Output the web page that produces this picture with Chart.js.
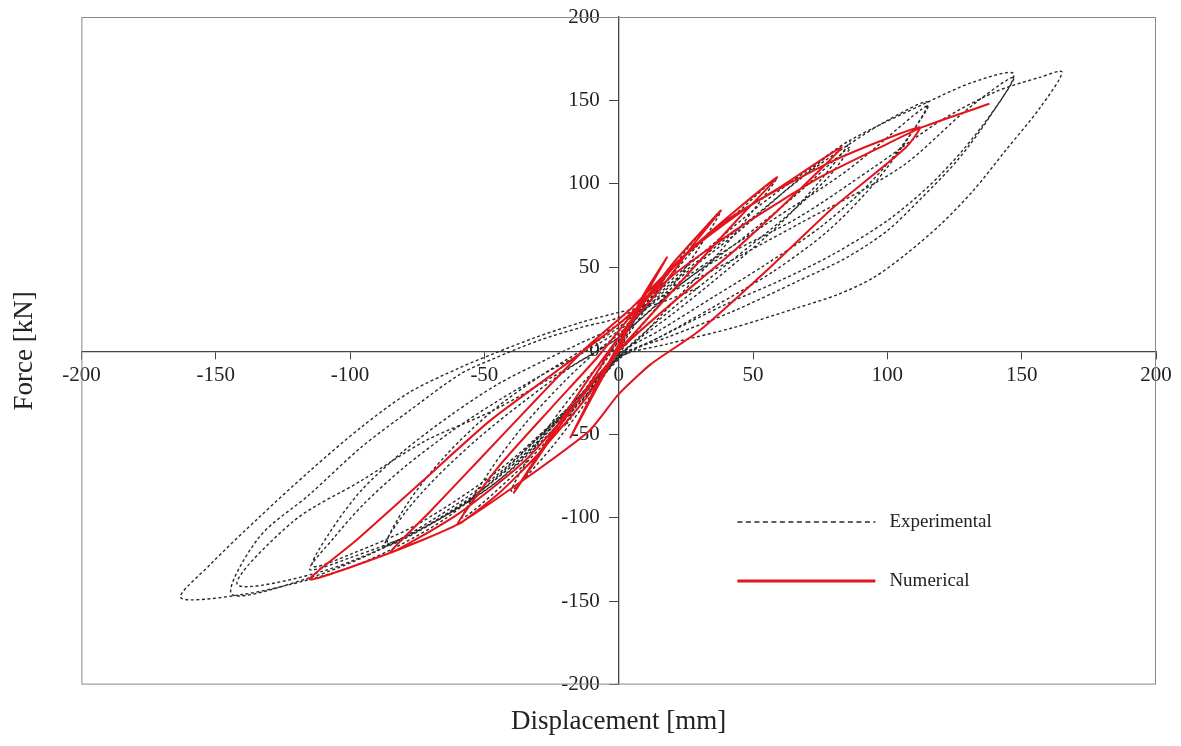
<!DOCTYPE html>
<html>
<head>
<meta charset="utf-8">
<script src="https://cdn.jsdelivr.net/npm/chart.js@4.4.1/dist/chart.umd.min.js"></script>
<style>
  html, body { margin: 0; padding: 0; background: #fff; }
  #wrap { width: 1181px; height: 746px; }
</style>
</head>
<body>
<div id="wrap"><canvas id="hysteresis" width="1181" height="746"></canvas></div>
<script>
// displacement [mm] / force [kN] pairs
var experimental = [
  // +-20
  [0, 0], [10, 30], [20, 52],
  [12, 30], [3, 8], [0, 0], [-8, -18], [-20, -45],
  // +-40
  [-12, -22], [-4, -4], [0, 6], [12, 32], [25, 60], [38, 84],
  [30, 62], [18, 34], [6, 10], [0, -2], [-10, -26], [-25, -58], [-40, -84],
  // +-59
  [-30, -55], [-18, -28], [-6, -6], [0, 6], [15, 36], [30, 64], [45, 84], [59, 104],
  [50, 84], [38, 60], [22, 32], [8, 8], [0, -4], [-15, -32], [-35, -68], [-58, -100],
  // +-86, first
  [-48, -72], [-35, -44], [-20, -18], [-8, 0], [0, 10], [20, 40], [45, 72], [65, 100], [86, 126],
  [75, 102], [60, 76], [40, 48], [20, 22], [5, 4], [0, -4], [-20, -38], [-45, -78], [-70, -104], [-87, -117],
  // +-86, second
  [-80, -98], [-68, -76], [-52, -52], [-35, -30], [-18, -10], [0, 8], [20, 36], [45, 66], [65, 92], [86, 122],
  [78, 104], [62, 80], [42, 54], [22, 28], [6, 6], [0, -3], [-20, -36], [-45, -74], [-70, -102], [-86, -115],
  // +-115, first
  [-78, -90], [-64, -62], [-47, -36], [-30, -16], [-14, 0], [0, 14], [25, 48], [50, 80], [70, 106], [86, 124], [100, 138], [115, 149],
  [108, 128], [95, 100], [78, 72], [58, 48], [35, 26], [15, 8], [0, -4], [-20, -38], [-45, -76], [-75, -108], [-100, -124], [-115, -131],
  // +-115, second
  [-106, -112], [-95, -92], [-80, -70], [-62, -48], [-45, -30], [-28, -14], [-12, 0], [0, 12], [25, 44], [55, 76], [85, 108], [115, 147],
  [106, 124], [92, 98], [75, 74], [55, 52], [35, 32], [15, 12], [0, -2], [-20, -36], [-45, -72], [-75, -104], [-100, -122], [-114, -129],
  // +-147, first
  [-108, -110], [-96, -84], [-80, -60], [-62, -38], [-45, -20], [-28, -6], [-15, 4], [0, 16], [25, 50], [50, 84], [70, 108], [86, 126], [115, 149], [132, 161], [147, 166],
  [138, 140], [126, 114], [113, 92], [100, 72], [85, 56], [67, 42], [43, 24], [18, 8], [0, -3], [-15, -28], [-35, -62], [-60, -94], [-90, -120], [-115, -136], [-144, -146],
  // +-147, second
  [-134, -112], [-115, -86], [-96, -58], [-78, -36], [-59, -14], [-47, -5], [-30, 6], [-14, 14], [0, 20], [30, 44], [67, 76], [105, 110], [130, 145], [147, 164],
  [140, 145], [128, 120], [115, 98], [100, 78], [80, 58], [60, 42], [40, 28], [20, 12], [5, 0], [0, -5], [-20, -40], [-45, -78], [-75, -108], [-110, -132], [-142, -140],
  // +-165
  [-121, -102], [-96, -78], [-72, -54], [-47, -36], [-25, -16], [-10, -2], [0, 8], [30, 48], [67, 80], [95, 110], [120, 138], [140, 155], [157, 164], [165, 167],
  [157, 146], [144, 120], [132, 96], [120, 76], [107, 58], [95, 44], [82, 34], [67, 26], [43, 14], [18, 4], [0, -4], [-14, -28], [-31, -54], [-47, -78], [-64, -100], [-81, -116], [-97, -128], [-115, -137], [-140, -146], [-163, -148],
  [-152, -128], [-134, -100], [-115, -72], [-96, -46], [-78, -25], [-59, -10], [-47, -2], [-31, 8], [-14, 17], [0, 23], [14, 28], [30, 38]
];

var numerical = [
  [0, 0], [8, 30], [18, 56],
  [8, 28], [0, 4], [-8, -20], [-18, -52],
  [-10, -28], [0, 2], [8, 26], [20, 52], [30, 70], [38, 84],
  [28, 64], [15, 36], [0, 8], [-10, -18], [-25, -52], [-39, -85],
  [-25, -50], [-10, -14], [0, 8], [10, 30], [25, 58], [42, 82], [59, 104],
  [45, 80], [28, 50], [10, 18], [0, 0], [-12, -28], [-30, -62], [-45, -86], [-60, -104],
  [-45, -70], [-25, -34], [-8, -4], [5, 22], [20, 50], [40, 78], [60, 98], [83, 122],
  [67, 96], [43, 60], [18, 26], [0, 0], [-15, -30], [-35, -66], [-60, -98], [-85, -121],
  [-70, -96], [-50, -62], [-30, -28], [-12, 2], [5, 26], [25, 58], [50, 88], [80, 114], [112, 134],
  [107, 122], [80, 86], [55, 48], [30, 12], [12, -8], [0, -26], [-11, -48], [-36, -78], [-60, -104], [-85, -121], [-115, -137],
  [-98, -114], [-73, -78], [-48, -42], [-23, -12], [0, 16], [20, 45], [45, 74], [75, 104], [100, 124], [113, 134], [138, 148]
];

var xTicks = [-200, -150, -100, -50, 0, 50, 100, 150, 200];
var yTicks = [-200, -150, -100, -50, 0, 50, 100, 150, 200];
var seriesNames = ['Experimental', 'Numerical'];
var xTitle = 'Displacement [mm]';
var yTitle = 'Force [kN]';

var serif = "'Liberation Serif', 'Times New Roman', serif";
var ink = '#222';

// grey box round the plot area
var frame = {
  id: 'frame',
  beforeDatasetsDraw: function (chart) {
    var a = chart.chartArea, ctx = chart.ctx;
    ctx.save();
    ctx.strokeStyle = '#8a8a8a';
    ctx.lineWidth = 1;
    ctx.strokeRect(a.left + 0.5, a.top + 0.5, a.right - a.left - 1, a.bottom - a.top - 1);
    ctx.restore();
  }
};

// legend inside the plot, lower right
var insideLegend = {
  id: 'insideLegend',
  afterDraw: function (chart) {
    var a = chart.chartArea, ctx = chart.ctx;
    var x0 = a.left + 656, len = 138;
    var rows = [a.top + 505, a.top + 564];
    var sets = [chart.data.datasets[1], chart.data.datasets[0]];
    ctx.save();
    sets.forEach(function (ds, i) {
      ctx.beginPath();
      ctx.strokeStyle = ds.borderColor;
      ctx.lineWidth = i === 0 ? 1.3 : 3;
      ctx.setLineDash(i === 0 ? [5, 3.5] : []);
      ctx.moveTo(x0, rows[i]);
      ctx.lineTo(x0 + len, rows[i]);
      ctx.stroke();
      ctx.setLineDash([]);
      ctx.fillStyle = ink;
      ctx.font = '19px ' + serif;
      ctx.textBaseline = 'middle';
      ctx.textAlign = 'left';
      ctx.fillText(ds.label, x0 + len + 14, rows[i]);
    });
    ctx.restore();
  }
};

var config = {
  type: 'scatter',
  plugins: [frame, insideLegend],
  data: {
    datasets: [
      {
        label: seriesNames[1],
        data: numerical,
        showLine: true,
        borderColor: '#e3141b',
        borderWidth: 2,
        pointRadius: 0,
        tension: 0.2,
        fill: false
      },
      {
        label: seriesNames[0],
        data: experimental,
        showLine: true,
        borderColor: '#2a2a2a',
        borderWidth: 1.4,
        borderDash: [3, 2.5],
        pointRadius: 0,
        tension: 0.3,
        fill: false
      }
    ]
  },
  options: {
    responsive: false,
    animation: false,
    devicePixelRatio: 1,
    layout: {
      padding: { left: 0, top: 17, right: 25, bottom: 0 }
    },
    plugins: {
      legend: { display: false },
      tooltip: { enabled: false },
      title: {
        display: true,
        text: xTitle,
        position: 'bottom',
        fullSize: false,
        color: ink,
        font: { family: serif, size: 27, weight: 'normal' },
        padding: { top: 21, bottom: 8 }
      },
      subtitle: {
        display: true,
        text: yTitle,
        position: 'left',
        fullSize: false,
        color: ink,
        font: { family: serif, size: 27, weight: 'normal' },
        padding: { top: 9, bottom: 40 }
      }
    },
    scales: {
      x: {
        type: 'linear',
        min: -200,
        max: 200,
        position: 'center',
        afterBuildTicks: function (scale) {
          scale.ticks = xTicks.map(function (v) { return { value: v }; });
        },
        grid: { drawOnChartArea: false, drawTicks: true, tickLength: 7, color: '#444' },
        border: { display: true, color: '#444', width: 1.3 },
        ticks: {
          color: ink,
          padding: 5,
          maxRotation: 0,
          autoSkip: false,
          font: { family: serif, size: 21 }
        }
      },
      y: {
        type: 'linear',
        min: -200,
        max: 200,
        position: 'center',
        afterBuildTicks: function (scale) {
          scale.ticks = yTicks.map(function (v) { return { value: v }; });
        },
        afterFit: function (scale) {
          scale.paddingTop = 0;
          scale.paddingBottom = 0;
        },
        grid: { drawOnChartArea: false, drawTicks: true, tickLength: 9, color: '#444' },
        border: { display: true, color: '#444', width: 1.3 },
        ticks: {
          color: ink,
          padding: 10,
          autoSkip: false,
          font: { family: serif, size: 21 }
        }
      }
    }
  }
};

new Chart(document.getElementById('hysteresis').getContext('2d'), config);
</script>
</body>
</html>
